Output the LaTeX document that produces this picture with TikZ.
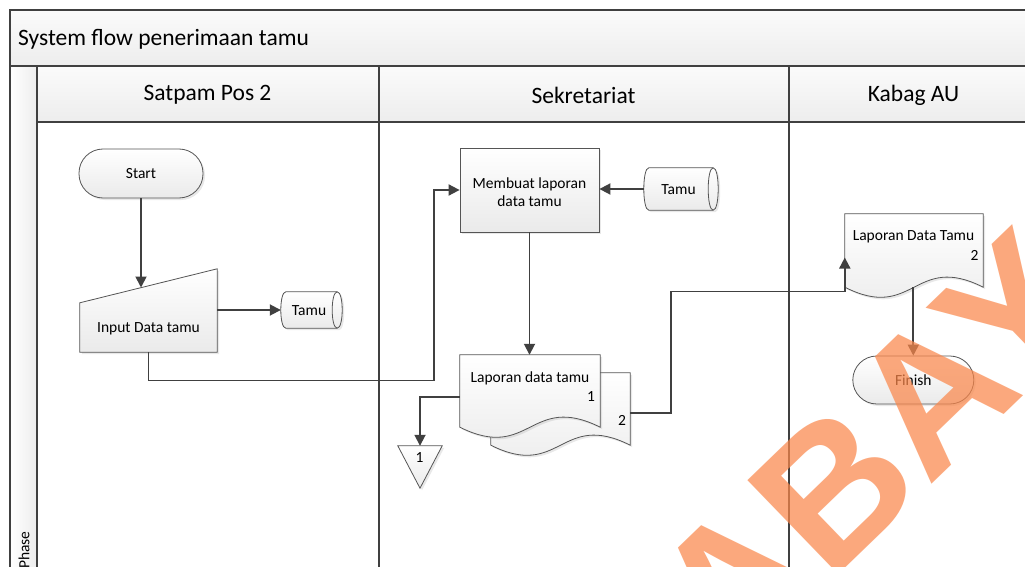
\documentclass[tikz,border=0pt]{standalone}
\usepackage{fontspec}
\setmainfont{Carlito}
\newfontfamily\markfont{Liberation Sans}[BoldFont={* Bold}]
\usetikzlibrary{arrows.meta,shadows,calc}

\definecolor{linegray}{HTML}{404040}
\definecolor{edgegray}{HTML}{555555}
\definecolor{fillbot}{HTML}{EAEAEA}
\definecolor{headtop}{HTML}{FBFBFB}
\definecolor{headbot}{HTML}{EDEDED}
\definecolor{stamp}{RGB}{250,135,75}

% horizontal "stored data" drum drawn on an empty node: #1 node name, #2 end radius
\newcommand{\storeddrum}[2]{%
  \path[shp] ($(#1.north west)+(#2,0)$) -- ($(#1.north east)+(-#2,0)$)
    .. controls ($(#1.north east)+(#2/3,0)$) and ($(#1.south east)+(#2/3,0)$) .. ($(#1.south east)+(-#2,0)$)
    -- ($(#1.south west)+(#2,0)$)
    .. controls ($(#1.south west)+(-#2/3,0)$) and ($(#1.north west)+(-#2/3,0)$) .. cycle;
  \draw[draw=edgegray, line width=0.8pt] ($(#1.north east)+(-#2,0)$)
    .. controls ($(#1.north east)+(-7*#2/3,0)$) and ($(#1.south east)+(-7*#2/3,0)$) .. ($(#1.south east)+(-#2,0)$);
}

\begin{document}
\begin{tikzpicture}[x=1pt,y=-1pt,
  every node/.style={font=\fontsize{15.5}{18}\selectfont, text=black, inner sep=0pt},
  shp/.style={draw=edgegray, line width=0.8pt, top color=white, bottom color=fillbot,
    drop shadow={opacity=0.18, shadow xshift=2pt, shadow yshift=-2pt}},
  flow/.style={draw=linegray, line width=1.8pt, -{Triangle[length=11pt,width=11pt]}},
  lane/.style={draw=linegray, line width=1.2pt},
  head/.style={lane, top color=headtop, bottom color=headbot},
  headtxt/.style={font=\fontsize{23.5}{26}\selectfont},
]

% canvas
\useasboundingbox (0,0) rectangle (1025,567);
\fill[white] (0,0) rectangle (1025,567);

% swimlane frame
\path[head] (10,10) rectangle (1045,66);
\path[lane, left color=white, right color=headbot] (10,66) rectangle (37,600);
\path[head] (37,66) rectangle (379,122);
\path[head] (379,66) rectangle (789,122);
\path[head] (789,66) rectangle (1045,122);
\draw[lane] (379,122) -- (379,600);
\draw[lane] (789,122) -- (789,600);

\node[headtxt, anchor=west] (title) at (18,39) {System flow penerimaan tamu};
\node[headtxt] (laneA) at (207.5,95) {Satpam Pos 2};
\node[headtxt] (laneB) at (583.5,95) {Sekretariat};
\node[headtxt] (laneC) at (913.5,95) {Kabag AU};
\node[rotate=90, anchor=west] (phase) at (24,569) {Phase};

% ---- Satpam Pos 2 ----
\node[shp, rectangle, rounded corners=24pt, minimum width=124pt, minimum height=49pt] (start) at (141,173.5) {Start};

\node[minimum width=137pt, minimum height=83pt] (input) at (148.5,310.5) {};
\path[shp] (input.south west) -- (input.south east) -- (input.north east)
  -- ($(input.north west)+(0,34)$) -- cycle;
\node (inputlbl) at (148.5,329) {Input Data tamu};
\coordinate (intop) at (141,287.5);

\node[minimum width=61pt, minimum height=36pt] (tamuA) at (311.5,310) {};
\storeddrum{tamuA}{5}
\node (tamuAlbl) at (309,310.5) {Tamu};

% ---- Sekretariat ----
\node[shp, rectangle, minimum width=139pt, minimum height=84pt] (membuat) at (529.5,190) {};
\node[align=center, font=\fontsize{15.5}{18.3}\selectfont] (membuatlbl) at (529.5,192) {Membuat laporan\\data tamu};

\node[minimum width=74pt, minimum height=42pt] (tamuB) at (681,189) {};
\storeddrum{tamuB}{5}
\node (tamuBlbl) at (678.5,190) {Tamu};

% multi-document: back sheet then front sheet
\node[minimum width=139pt, minimum height=72pt] (lap2) at (560.5,409) {};
\path[shp] (lap2.north west) -- (lap2.north east) -- (lap2.south east)
  .. controls ($(lap2.south)+(0,-35)$) and ($(lap2.south)+(0,35)$) .. (lap2.south west) -- cycle;
\node[minimum width=140pt, minimum height=72pt] (lap1) at (530,391) {};
\path[shp] (lap1.north west) -- (lap1.north east) -- (lap1.south east)
  .. controls ($(lap1.south)+(0,-35)$) and ($(lap1.south)+(0,35)$) .. (lap1.south west) -- cycle;
\node (lap1lbl) at (530,378) {Laporan data tamu};
\node (lap1num) at (591,397) {1};
\node (lap2num) at (622,420) {2};

% off-page connector
\node[minimum width=44pt, minimum height=42pt] (off) at (420,467) {};
\path[shp] (off.north west) -- (off.north east) -- (off.south) -- cycle;
\node (offlbl) at (419.5,458) {1};

% ---- Kabag AU ----
\node[minimum width=138pt, minimum height=73pt] (lapD) at (914,250.5) {};
\path[shp] (lapD.north west) -- (lapD.north east) -- (lapD.south east)
  .. controls ($(lapD.south)+(0,-35)$) and ($(lapD.south)+(0,35)$) .. (lapD.south west) -- cycle;
\node (lapDlbl) at (913.5,237) {Laporan Data Tamu};
\node (lapDnum) at (974.5,255.5) {2};

\node[shp, rectangle, rounded corners=24pt, minimum width=121pt, minimum height=48pt] (finish) at (913.3,380) {Finish};

% ---- connectors ----
\coordinate (bendA) at (434,380.5);
\coordinate (bendB) at (671,291.5);
\coordinate (lapDin) at ($(lapD.west)+(0,7)$);

\draw[flow] (start.south) -- (intop);
\draw[flow] (tamuA.west -| input.east) -- (tamuA.west);
\draw[flow] (input.south) |- (bendA) |- (membuat.west);
\draw[flow] (tamuB.west) -- (tamuB.west -| membuat.east);
\draw[flow] (membuat.south) -- (membuat.south |- lap1.north);
\draw[flow] ($(lap1.west)+(0,6)$) -| (off.north);
\draw[flow] ($(lap2.east)+(0,4)$) -| (bendB) -| (lapDin);
\draw[flow] (finish.north |- lapD.south) -- (finish.north);

% watermark
\begin{scope}
  \clip (0,0) rectangle (1025,567);
  \node[rotate=44, text=stamp, opacity=0.72, font=\markfont\bfseries\fontsize{190}{190}\selectfont] (mark) at (772,548) {SURABAYA};
\end{scope}
\end{tikzpicture}
\end{document}
